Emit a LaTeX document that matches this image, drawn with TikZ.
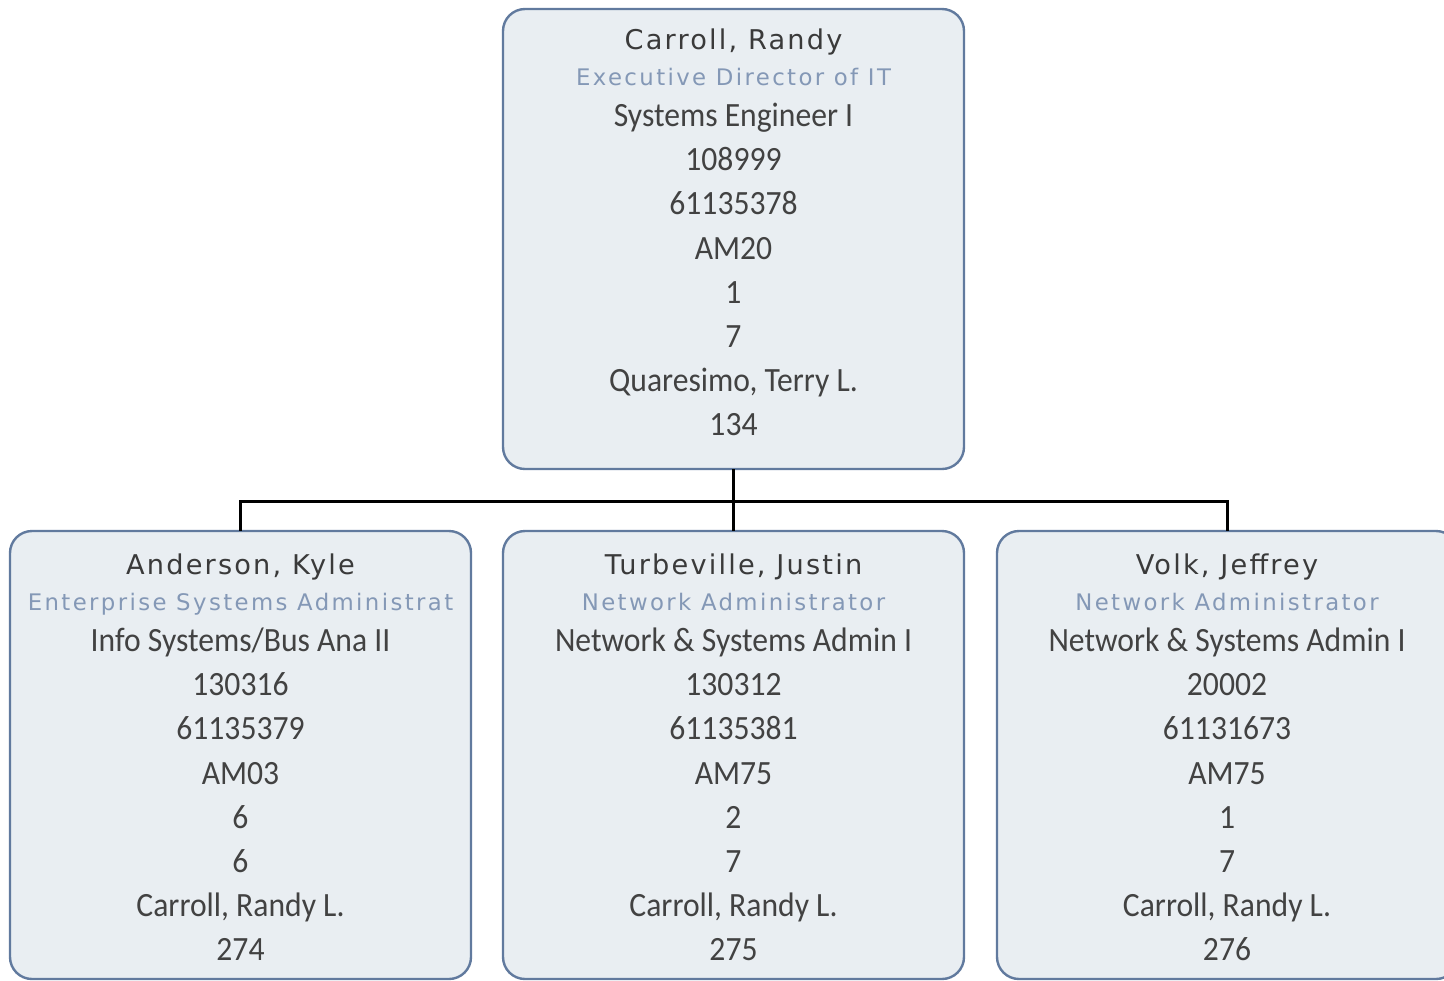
\documentclass[tikz,border=0pt]{standalone}
\usepackage{fontspec}
\setmainfont{Carlito}[FakeStretch=0.93]
\newfontfamily\namefont{DejaVu Sans}[LetterSpace=8]
\newfontfamily\titlefont{DejaVu Sans}[LetterSpace=10.5]
\definecolor{boxfill}{HTML}{E9EEF2}
\definecolor{boxline}{HTML}{617A9E}
\definecolor{namecol}{HTML}{3A3A3A}
\definecolor{titlecol}{HTML}{8498B6}
\definecolor{bodycol}{HTML}{424242}
\tikzset{
  orgbox/.style={draw=boxline, fill=boxfill, line width=1.2pt, rounded corners=11pt,
    rectangle, minimum width=230.5pt, inner sep=0pt, outer sep=0pt},
  nametext/.style={anchor=base, inner sep=0pt, text=namecol, font=\namefont\fontsize{13.6pt}{15pt}\selectfont},
  titletext/.style={anchor=base, inner sep=0pt, text=titlecol, font=\titlefont\fontsize{11.4pt}{13pt}\selectfont},
  bodytext/.style={anchor=base, inner sep=0pt, text=bodycol, font=\fontsize{17pt}{19pt}\selectfont},
  conn/.style={draw=black, line width=1.5pt}
}
\newcommand{\orgtext}[6]{%
  \node[nametext] (#1-name) at (#2,#5) {#3};
  \node[titletext] (#1-title) at (#2,#5+36) {#4};
  \foreach \t [count=\i] in {#6} \node[bodytext] (#1-l\i) at (#2,{#5+77.5+(\i-1)*44.2}) {\t};
}
\begin{document}
\begin{tikzpicture}[x=0.5pt,y=-0.5pt]
\useasboundingbox (0,0) rectangle (1444,980);
\clip (0,0) rectangle (1444,980);
% boxes
\node[orgbox, minimum height=230pt] (carroll) at (733.5,239) {};
\node[orgbox, minimum height=224pt] (anderson) at (240.5,755) {};
\node[orgbox, minimum height=224pt] (turbeville) at (733.5,755) {};
\node[orgbox, minimum height=224pt] (volk) at (1227.5,755) {};
% connectors
\draw[conn] (carroll.south) -- ++(0,32) -| (anderson.north);
\draw[conn] (carroll.south) -- ++(0,32) -| (turbeville.north);
\draw[conn] (carroll.south) -- ++(0,32) -| (volk.north);
% texts
\orgtext{c}{733.5}{Carroll, Randy}{Executive Director of IT}{49}{Systems Engineer I,108999,61135378,AM20,1,7,{Quaresimo, Terry L.},134}
\orgtext{a}{240.5}{Anderson, Kyle}{Enterprise Systems Administrat}{574}{Info Systems/Bus Ana II,130316,61135379,AM03,6,6,{Carroll, Randy L.},274}
\orgtext{t}{733.5}{Turbeville, Justin}{Network Administrator}{574}{Network \& Systems Admin I,130312,61135381,AM75,2,7,{Carroll, Randy L.},275}
\orgtext{v}{1227}{Volk, Jeffrey}{Network Administrator}{574}{Network \& Systems Admin I,20002,61131673,AM75,1,7,{Carroll, Randy L.},276}
\end{tikzpicture}
\end{document}
